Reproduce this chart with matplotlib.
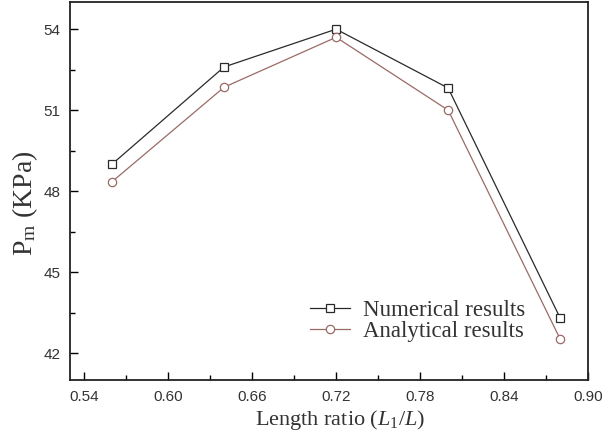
import numpy as np
from matplotlib import pyplot as plt
from matplotlib.ticker import MultipleLocator

plt.rcParams['mathtext.fontset'] = 'custom'
plt.rcParams['mathtext.rm'] = 'Liberation Serif'
plt.rcParams['mathtext.it'] = 'Liberation Serif:italic'

# Data
length_ratio = [0.56, 0.64, 0.72, 0.80, 0.88]
numerical = [49.0, 52.6, 54.0, 51.82, 43.3]
analytical = [48.35, 51.85, 53.7, 51.0, 42.52]

fig = plt.figure(figsize=(6.14, 4.36), dpi=100)
ax = fig.add_axes([0.114, 0.128, 0.844, 0.867])

ax.plot(length_ratio, numerical, color='#2a2a2a', lw=0.9, marker='s',
        ms=5.2, mfc='white', mec='#2a2a2a', mew=0.9, label='Numerical results')
ax.plot(length_ratio, analytical, color='#9a6a66', lw=0.9, marker='o',
        ms=6, mfc='white', mec='#9a6a66', mew=0.9, label='Analytical results')

ax.set_xlim(0.53, 0.90)
ax.set_ylim(41, 55)
ax.xaxis.set_minor_locator(MultipleLocator(0.03))
ax.yaxis.set_minor_locator(MultipleLocator(1.5))
ax.set_xticks(np.arange(0.54, 0.91, 0.06))
ax.set_xticklabels(['0.54', '0.60', '0.66', '0.72', '0.78', '0.84', '0.90'])
ax.set_yticks([42, 45, 48, 51, 54])

ax.tick_params(which='major', direction='in', length=6, width=1,
               labelsize=11, pad=7)
ax.tick_params(which='minor', direction='in', length=3.5, width=1)
for lab in ax.get_xticklabels() + ax.get_yticklabels():
    lab.set_family('Liberation Sans')
    lab.set_color('#333333')
for s in ax.spines.values():
    s.set_linewidth(1.3)
    s.set_color('#222222')

ax.set_xlabel(r'Length ratio ($L$$_{\mathrm{1}}$/$L$)', family='Liberation Serif',
              fontsize=16, color='#333333', labelpad=3)
ax.xaxis.label.set_x(0.521)
ax.set_ylabel(r'P$_{\mathrm{m}}$ (KPa)', family='Liberation Serif',
              fontsize=20, color='#333333', labelpad=2)
ax.yaxis.label.set_y(0.468)

leg = ax.legend(loc='upper left', bbox_to_anchor=(0.463, 0.212), frameon=False,
                prop={'family': 'Liberation Serif', 'size': 16.5},
                handlelength=1.75, handletextpad=0.55, labelspacing=0.0,
                borderpad=0, borderaxespad=0)
for t in leg.get_texts():
    t.set_color('#333333')

fig.savefig('out.png', dpi=100)
